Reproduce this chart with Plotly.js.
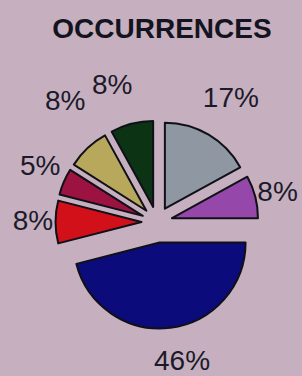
<!DOCTYPE html>
<html>
<head>
<meta charset="utf-8">
<script src="https://cdn.plot.ly/plotly-3.0.1.min.js"></script>
<style>html,body{margin:0;padding:0;background:#c6b0bf;}#chart{width:302px;height:376px;}</style>
</head>
<body>
<div id="chart"></div>
<script>
var categories = ["Gray", "Purple", "Blue", "Red", "Crimson", "Khaki", "Green"];
var values = [17, 8, 46, 8, 5, 8, 8];
var sliceColors = ["#8f97a3", "#9548aa", "#0b0b7c", "#d2101a", "#9c1240", "#b8a85c", "#0c3414"];
var pulls = [0.18, 0.18, 0.24, 0.18, 0.18, 0.18, 0.18];

// label placement (layout only): ring radius in px and small angular nudge in degrees;
// null radius = shown centred under the pie
var labelRadius = [117, 97, null, 96, 103, 127, 123];
var labelTurn = [-11.6, -3, 0, 1, 7, 13, 6.5];

var W = 302, H = 376;
var cx = 157, cyTop = 222;
var pieHalf = 106.6;
var bottomCx = 182, bottomLift = 3;

var total = values.reduce(function (a, b) { return a + b; }, 0);
var pctText = values.map(function (v) { return Math.round(v / total * 100) + "%"; });
var bottomText = pctText.filter(function (t, i) { return labelRadius[i] === null; }).join(" ");

function dom(half) {
  return {
    x: [(cx - half) / W, (cx + half) / W],
    y: [(H - cyTop - half) / H, (H - cyTop + half) / H]
  };
}

var font = "Liberation Sans, Arial, sans-serif";
var textColor = "#1c1a2a";
var clear = categories.map(function () { return "rgba(0,0,0,0)"; });

var traces = [{
  type: "pie",
  labels: categories,
  values: values,
  sort: false,
  direction: "clockwise",
  rotation: 0,
  pull: pulls,
  marker: {colors: sliceColors, line: {color: "#101018", width: 2}},
  textinfo: "none",
  hoverinfo: "none",
  showlegend: false,
  domain: dom(pieHalf)
}];

// one transparent copy of the pie per outside label
values.forEach(function (v, i) {
  if (labelRadius[i] === null) return;
  traces.push({
    type: "pie",
    labels: categories,
    values: values,
    sort: false,
    direction: "clockwise",
    rotation: labelTurn[i],
    pull: 0,
    marker: {colors: clear, line: {width: 0}},
    text: pctText.map(function (t, j) { return j === i ? t : ""; }),
    textinfo: "text",
    textposition: "outside",
    outsidetextfont: {family: font, size: 28, color: textColor},
    hoverinfo: "none",
    showlegend: false,
    domain: dom(labelRadius[i])
  });
});

// transparent carrier whose bottom title shows the big slice's percentage
traces.push({
  type: "pie",
  labels: categories,
  values: values,
  sort: false,
  marker: {colors: clear, line: {width: 0}},
  textinfo: "none",
  hoverinfo: "none",
  showlegend: false,
  title: {text: bottomText, position: "bottom center", font: {family: font, size: 28, color: textColor}},
  domain: {x: [(bottomCx - 62) / W, (bottomCx + 62) / W], y: [bottomLift / H, (bottomLift + 90) / H]}
});

var layout = {
  width: W, height: H,
  margin: {l: 0, r: 0, t: 0, b: 0},
  paper_bgcolor: "#c6b0bf",
  plot_bgcolor: "#c6b0bf",
  showlegend: false,
  title: {
    text: "<b>OCCURRENCES</b>",
    x: 162 / W, xanchor: "center",
    y: 1 - 28 / H, yanchor: "middle", yref: "container",
    font: {family: font, size: 28, color: "#141420"}
  }
};

Plotly.newPlot("chart", traces, layout, {displayModeBar: false, staticPlot: true});
</script>
</body>
</html>
